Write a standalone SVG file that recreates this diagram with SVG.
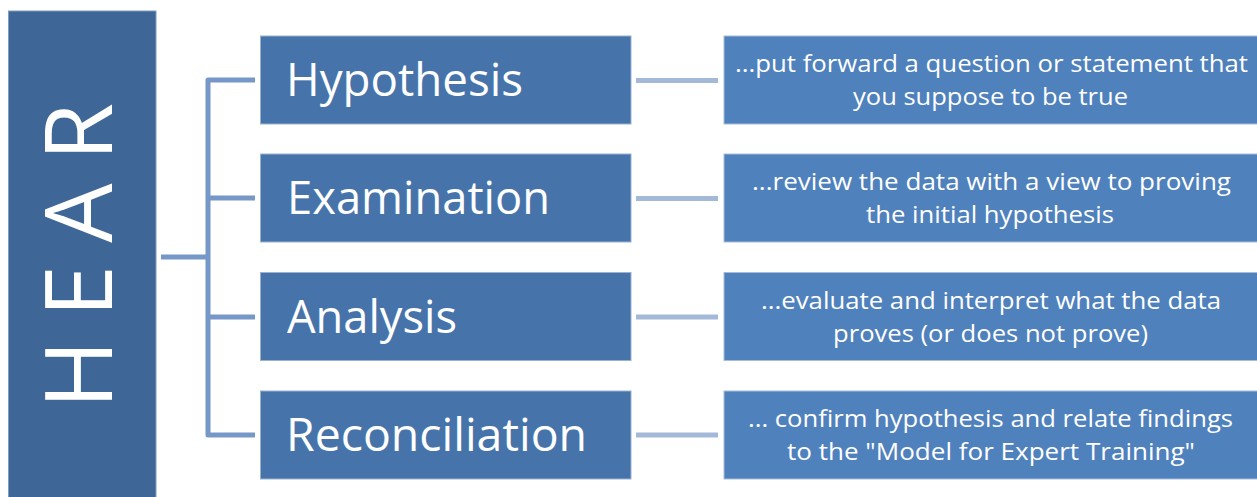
<svg xmlns="http://www.w3.org/2000/svg" width="1257" height="497" viewBox="0 0 1257 497">
  <defs>
    <style>
      .title { fill: #3e6696; stroke: #7f9cc2; stroke-width: 1; }
      .step { fill: #4674aa; stroke: #9ab1d2; stroke-width: 1; }
      .desc { fill: #4f81bd; stroke: #a7bcdb; stroke-width: 1; }
      .bracket { fill: none; stroke: #7698c8; stroke-width: 5; stroke-linejoin: round; }
      .link { stroke: #a4b8d8; stroke-width: 5; }
      text { fill: #ffffff; font-family: "Open Sans", "Noto Sans", "Liberation Sans", sans-serif; }
      .big { font-size: 94px; }
      .label { font-size: 46px; }
      .note { font-size: 24px; text-anchor: middle; }
    </style>
  </defs>

  <rect width="1257" height="497" fill="#ffffff"/>

  <g id="hear">
    <rect class="title" x="8.5" y="11" width="147.5" height="492"/>
    <text class="big" transform="translate(112,409) rotate(-90)" x="0" y="0" textLength="306" lengthAdjust="spacing">HEAR</text>
  </g>

  <g id="connectors">
    <path class="bracket" d="M161,257 H208 M255,80 H208 V435 H255 M208,198 H255 M208,317 H255"/>
    <line class="link" x1="636" y1="80.5" x2="718" y2="80.5"/>
    <line class="link" x1="636" y1="198.5" x2="718" y2="198.5"/>
    <line class="link" x1="636" y1="317" x2="718" y2="317"/>
    <line class="link" x1="636" y1="435" x2="718" y2="435"/>
  </g>

  <g id="hypothesis">
    <rect class="step" x="260.5" y="36" width="370.5" height="88"/>
    <text class="label" x="286" y="96" textLength="237" lengthAdjust="spacingAndGlyphs">Hypothesis</text>
  </g>
  <g id="examination">
    <rect class="step" x="260.5" y="154" width="370.5" height="88"/>
    <text class="label" x="287" y="214" textLength="263" lengthAdjust="spacingAndGlyphs">Examination</text>
  </g>
  <g id="analysis">
    <rect class="step" x="260.5" y="272.5" width="370.5" height="88"/>
    <text class="label" x="287" y="332.5" textLength="170" lengthAdjust="spacingAndGlyphs">Analysis</text>
  </g>
  <g id="reconciliation">
    <rect class="step" x="260.5" y="391" width="370.5" height="88"/>
    <text class="label" x="286" y="451" textLength="301" lengthAdjust="spacingAndGlyphs">Reconciliation</text>
  </g>

  <g id="hypothesis-note">
    <rect class="desc" x="724" y="36" width="540" height="88"/>
    <text class="note" x="991.5" y="72" textLength="513" lengthAdjust="spacingAndGlyphs">...put forward a question or statement that</text>
    <text class="note" x="990.5" y="105" textLength="275" lengthAdjust="spacingAndGlyphs">you suppose to be true</text>
  </g>
  <g id="examination-note">
    <rect class="desc" x="724" y="154" width="540" height="88"/>
    <text class="note" x="991.5" y="190" textLength="479" lengthAdjust="spacingAndGlyphs">...review the data with a view to proving</text>
    <text class="note" x="990" y="223" textLength="248" lengthAdjust="spacingAndGlyphs">the initial hypothesis</text>
  </g>
  <g id="analysis-note">
    <rect class="desc" x="724" y="272.5" width="540" height="88"/>
    <text class="note" x="991" y="308.5" textLength="460" lengthAdjust="spacingAndGlyphs">...evaluate and interpret what the data</text>
    <text class="note" x="990.5" y="341.5" textLength="315" lengthAdjust="spacingAndGlyphs">proves (or does not prove)</text>
  </g>
  <g id="reconciliation-note">
    <rect class="desc" x="724" y="391" width="540" height="88"/>
    <text class="note" x="990.5" y="427" textLength="485" lengthAdjust="spacingAndGlyphs">... confirm hypothesis and relate findings</text>
    <text class="note" x="991" y="460" textLength="408" lengthAdjust="spacingAndGlyphs">to the "Model for Expert Training"</text>
  </g>
</svg>
